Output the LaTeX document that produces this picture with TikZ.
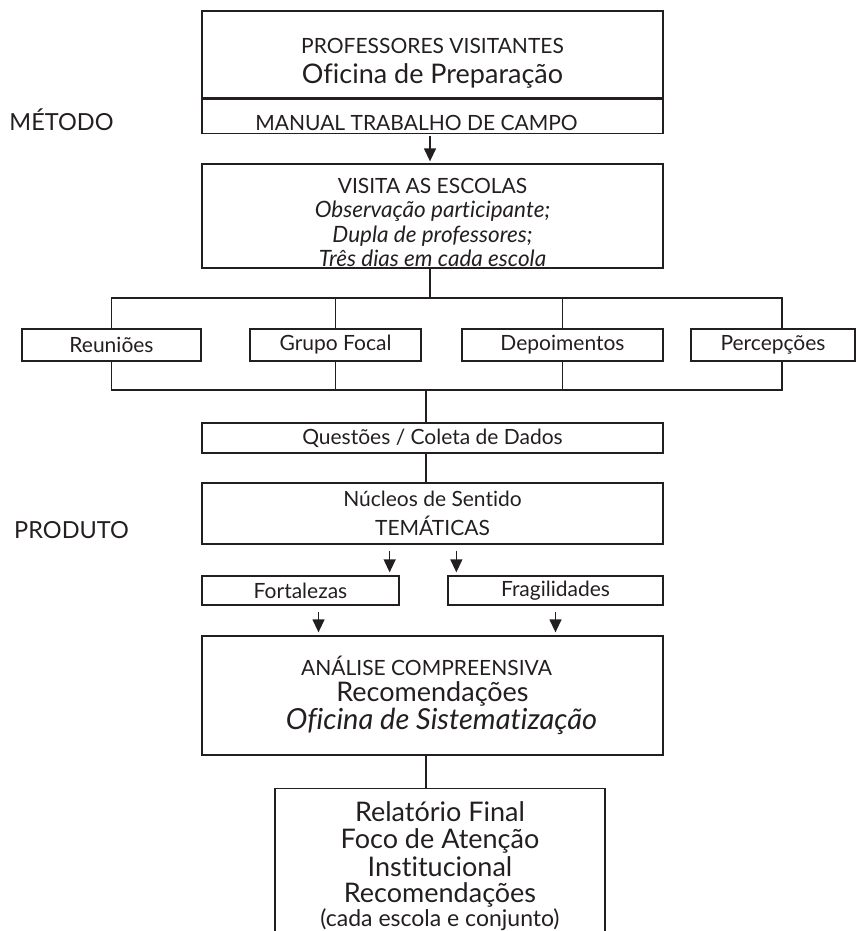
\documentclass[tikz,border=0pt]{standalone}
\usepackage{fontspec}
\setmainfont{Lato}[Ligatures=NoCommon]
\usetikzlibrary{arrows.meta}
\definecolor{ink}{HTML}{231F20}
\newcommand{\bigtxt}{\fontsize{27}{30}\selectfont}
\newcommand{\ittxt}{\fontsize{22.5}{24.5}\selectfont\itshape}
\tikzset{bx/.style = {rectangle, draw=ink, line width=1.3pt, inner sep=0pt, align=center, text=ink,
                      font=\fontsize{21}{24.5}\selectfont},
         lb/.style = {text=ink, inner sep=0pt, font=\fontsize{23.5}{26}\selectfont}}

\begin{document}
\begin{tikzpicture}[x=1pt, y=-1pt, >={Triangle[length=13pt,width=12pt]}, line width=1.3pt, draw=ink]
    \clip (0,0) rectangle (856,931);
    \node[lb] (met) at (61.5,120) {MÉTODO};
    \node[lb] (pro) at (71.5,530) {PRODUTO};
    \node[bx, minimum width=461pt, minimum height=87pt] (prof) at (432.5,54.5)
        {\rule{0pt}{33pt}PROFESSORES VISITANTES\\[6pt] {\bigtxt Oficina de Preparação}};
    \node[bx, minimum width=461pt, minimum height=34pt, anchor=north] (man) at (prof.south)
        {\raisebox{-14pt}[0pt][0pt]{\hspace*{-32pt}MANUAL TRABALHO DE CAMPO}};
    \node[bx, minimum width=461pt, minimum height=104pt] (vis) at (432.5,216)
        {\rule{0pt}{28pt}VISITA AS ESCOLAS\\ {\ittxt Observação participante;}\\ {\ittxt Dupla de professores;}\\ {\ittxt Três dias em cada escola}};
    \node[bx, minimum width=179pt, minimum height=32pt] (reu) at (111.5,345) {Reuniões};
    \node[bx, minimum width=171pt, minimum height=32pt] (gru) at (335.5,345) {Grupo Focal};
    \node[bx, minimum width=201pt, minimum height=32pt] (dep) at (562.5,345) {Depoimentos};
    \node[bx, minimum width=164pt, minimum height=32pt] (per) at (773,345) {Percepções};
    \node[bx, minimum width=461pt, minimum height=30pt] (que) at (432.5,438) {Questões / Coleta de Dados};
    \node[bx, minimum width=461pt, minimum height=61pt] (nuc) at (432.5,513.5) {Núcleos de Sentido\\[4pt] TEMÁTICAS};
    \node[bx, minimum width=197pt, minimum height=29pt] (for) at (300.5,590.5) {Fortalezas};
    \node[bx, minimum width=215pt, minimum height=29pt] (fra) at (555.5,590.5) {Fragilidades};
    \node[bx, minimum width=461pt, minimum height=119pt] (ana) at (432.5,695.5)
        {\hspace*{-12pt}ANÁLISE COMPREENSIVA\\[1pt] {\bigtxt Recomendações}\\[1pt] {\fontsize{29}{31}\selectfont\itshape\hspace*{18pt}Oficina de Sistematização}};
    \node[bx, minimum width=330pt, minimum height=155pt, anchor=north] (fin) at (440,788)
        {{\bigtxt Relatório Final}\\[2pt] {\bigtxt Foco de Atenção}\\[2pt] {\bigtxt Institucional}\\[2pt] {\bigtxt Recomendações}\\[-1pt] {\fontsize{23}{26}\selectfont (cada escola e conjunto)}};
    % branch points
    \coordinate (top) at (430,298);
    \coordinate (bot) at (426,390);
    \coordinate (a1) at ([xshift=-10pt]for.north east);
    \coordinate (a2) at ([xshift=9pt]fra.north west);
    \coordinate (a3) at ([xshift=18pt]for.south);
    \draw[->, shorten <=2pt, shorten >=2pt] (man.south -| top) -- (vis.north -| top);
    \draw (vis.south -| top) -- (top);
    \draw (reu.north) |- (top);
    \draw (gru.north) |- (top);
    \draw (dep.north) |- (top);
    \draw ([xshift=9pt]per.north) |- (top);
    \draw (reu.south) |- (bot);
    \draw (gru.south) |- (bot);
    \draw (dep.south) |- (bot);
    \draw ([xshift=9pt]per.south) |- (bot);
    \draw (bot) -- (bot |- que.north);
    \draw (que.south -| bot) -- (nuc.north -| bot);
    \draw[->, shorten <=6pt, shorten >=3pt] (a1 |- nuc.south) -- (a1);
    \draw[->, shorten <=6pt, shorten >=3pt] (a2 |- nuc.south) -- (a2);
    \draw[->, shorten <=6pt, shorten >=3pt] (a3) -- (a3 |- ana.north);
    \draw[->, shorten <=6pt, shorten >=3pt] (fra.south) -- (fra.south |- ana.north);
    \draw (ana.south -| bot) -- (fin.north -| bot);
\end{tikzpicture}
\end{document}
